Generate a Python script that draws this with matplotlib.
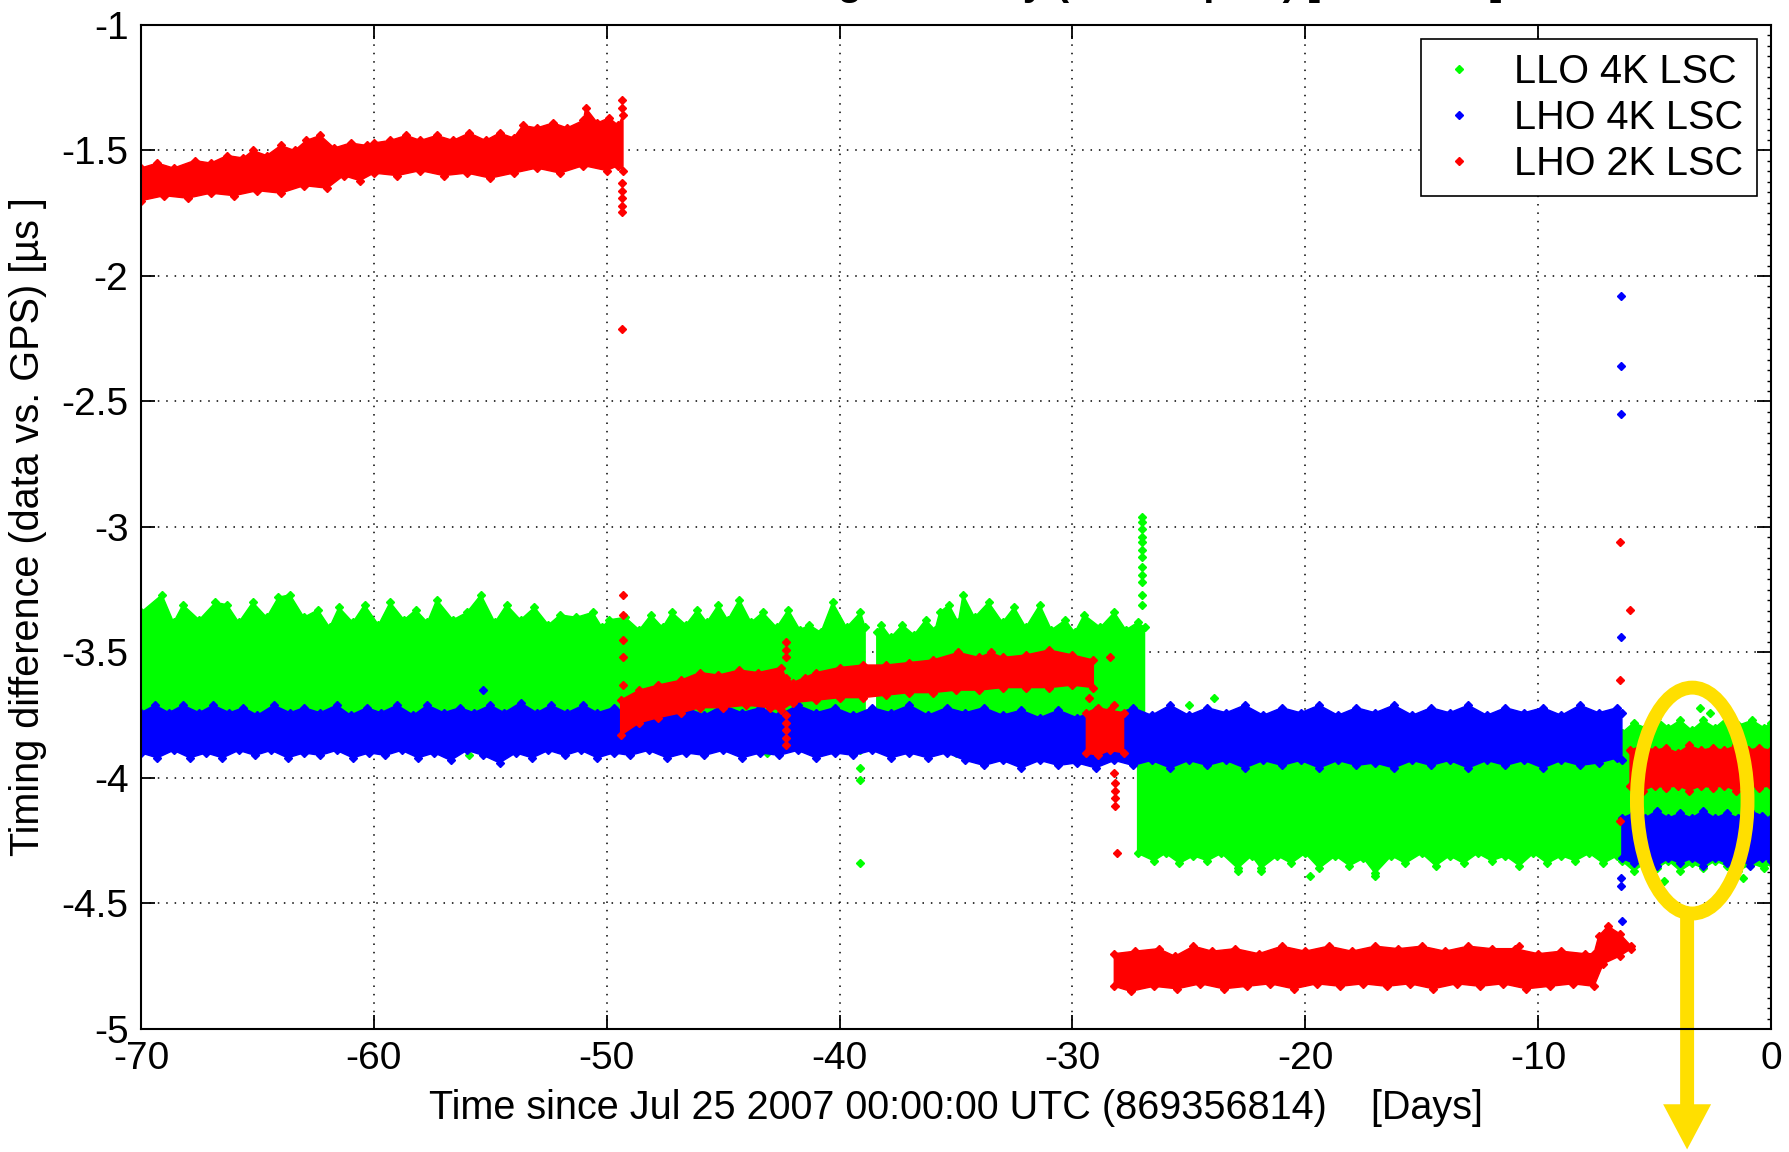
import numpy as np
import matplotlib
matplotlib.use("Agg")
import matplotlib.pyplot as plt
from matplotlib.lines import Line2D
from matplotlib.patches import Ellipse, FancyArrow
from matplotlib.ticker import MultipleLocator

plt.rcParams['font.family'] = ['Liberation Sans', 'DejaVu Sans']
plt.rcParams['axes.unicode_minus'] = False

# ---------------- data ----------------
series_names = ["LLO 4K LSC", "LHO 4K LSC", "LHO 2K LSC"]

# LLO 4K LSC (green) bands: upper edge / lower edge knots
llo_a_t_hi = [-70.0, -69.1, -68.6, -68.2, -67.5, -66.8, -66.3, -65.8, -65.2, -64.6, -64.1, -63.6,
              -63.0, -62.4, -61.9, -61.5, -60.9, -60.4, -59.8, -59.3, -58.7, -58.2, -57.7, -57.3,
              -56.6, -56.0, -55.4, -54.8, -54.3, -53.7, -53.1, -52.5, -52.0, -51.3, -50.6, -50.2,
              -49.9, -49.2, -48.6, -48.1, -47.6, -47.2, -46.6, -46.1, -45.7, -45.2, -44.8, -44.3,
              -43.8, -43.3, -42.7, -42.2, -41.7, -41.3, -40.8, -40.3, -39.7, -39.1, -38.9]
llo_a_hi = [-3.34, -3.27, -3.38, -3.31, -3.37, -3.30, -3.31, -3.38, -3.30, -3.36, -3.28, -3.27,
            -3.36, -3.33, -3.40, -3.32, -3.38, -3.31, -3.39, -3.30, -3.37, -3.33, -3.38, -3.29,
            -3.37, -3.34, -3.27, -3.38, -3.31, -3.37, -3.32, -3.39, -3.35, -3.36, -3.34, -3.40,
            -3.37, -3.36, -3.41, -3.35, -3.40, -3.34, -3.39, -3.33, -3.38, -3.31, -3.37, -3.29,
            -3.38, -3.34, -3.40, -3.33, -3.41, -3.39, -3.42, -3.30, -3.40, -3.34, -3.40]
llo_a_t_lo = [-70.0, -55.0, -38.9]
llo_a_lo = [-3.80, -3.80, -3.80]

llo_b_t_hi = [-38.4, -38.2, -37.8, -37.3, -36.8, -36.3, -35.9, -35.7, -35.3, -34.9, -34.7, -34.2,
              -33.6, -33.0, -32.5, -32.0, -31.4, -30.9, -30.3, -29.9, -29.5, -28.8, -28.2, -27.7,
              -27.2, -26.9]
llo_b_hi = [-3.42, -3.39, -3.44, -3.39, -3.43, -3.37, -3.41, -3.34, -3.31, -3.38, -3.27, -3.36,
            -3.30, -3.38, -3.32, -3.40, -3.31, -3.41, -3.37, -3.42, -3.35, -3.40, -3.34, -3.41,
            -3.38, -3.40]
llo_b_t_lo = [-38.4, -26.9]
llo_b_lo = [-3.78, -3.80]

llo_c_t_hi = [-27.2, -6.4]
llo_c_hi = [-3.82, -3.82]
llo_c_t_lo = [-27.2, -26.5, -26.0, -25.4, -24.8, -24.2, -23.6, -22.9, -22.3, -21.9, -21.2, -20.6,
              -20.0, -19.4, -18.7, -18.1, -17.5, -17.0, -16.3, -15.7, -15.0, -14.4, -13.8, -13.2,
              -12.6, -12.0, -11.4, -10.8, -10.2, -9.6, -9.0, -8.4, -7.8, -7.2, -6.6, -6.4]
llo_c_lo = [-4.30, -4.33, -4.30, -4.34, -4.31, -4.33, -4.30, -4.36, -4.31, -4.36, -4.31, -4.34,
            -4.30, -4.36, -4.31, -4.35, -4.32, -4.38, -4.31, -4.34, -4.30, -4.35, -4.31, -4.34,
            -4.30, -4.33, -4.31, -4.35, -4.30, -4.34, -4.31, -4.33, -4.30, -4.34, -4.31, -4.30]

llo_d_t_hi = [-6.4, -5.9, -5.4, -4.9, -4.4, -3.9, -3.4, -2.9, -2.4, -1.9, -1.4, -0.8, -0.3, 0.0]
llo_d_hi = [-3.82, -3.78, -3.80, -3.76, -3.80, -3.77, -3.81, -3.77, -3.80, -3.76, -3.79, -3.77,
            -3.80, -3.78]
llo_d_t_lo = [-6.4, -5.9, -5.4, -4.9, -4.4, -3.9, -3.4, -2.9, -2.4, -1.9, -1.4, -0.8, -0.3, 0.0]
llo_d_lo = [-4.33, -4.37, -4.34, -4.36, -4.33, -4.37, -4.34, -4.36, -4.33, -4.35, -4.37, -4.34,
            -4.36, -4.34]

llo_pts_t = [-27.0, -27.0, -27.0, -27.0, -27.0, -27.0, -27.0, -27.0, -27.0, -27.0, -27.0, -27.0,
             -39.1, -39.1, -39.1, -39.1, -55.9, -53.5, -43.1, -35.0, -25.8, -25.0, -24.0, -23.9,
             -22.9, -21.9, -19.8, -17.0, -3.05, -4.6, -1.2, -2.6]
llo_pts_v = [-2.96, -2.98, -3.01, -3.04, -3.06, -3.09, -3.12, -3.16, -3.19, -3.22, -3.27, -3.31,
             -3.89, -3.96, -4.01, -4.34, -3.91, -3.88, -3.90, -3.90, -3.73, -3.71, -3.75, -3.68,
             -4.37, -4.37, -4.39, -4.39, -3.72, -4.41, -4.40, -3.74]

# LHO 4K LSC (blue) bands
lho4_a_t_hi = [-70.0, -69.4, -68.8, -68.2, -67.5, -66.9, -66.2, -65.6, -65.0, -64.3, -63.6, -63.0,
               -62.3, -61.6, -61.0, -60.3, -59.7, -59.0, -58.3, -57.7, -57.0, -56.3, -55.7, -55.0,
               -54.4, -53.7, -53.0, -52.4, -51.7, -51.0, -50.4, -49.7, -49.0, -48.2, -47.4, -46.6,
               -45.8, -45.0, -44.2, -43.4, -42.6, -41.8, -41.0, -40.2, -39.4, -38.6, -37.8, -37.0,
               -36.2, -35.4, -34.6, -33.8, -33.0, -32.2, -31.4, -30.6, -29.8, -29.0, -28.2, -27.4,
               -26.6, -25.8, -25.0, -24.2, -23.4, -22.6, -21.8, -21.0, -20.2, -19.4, -18.6, -17.8,
               -17.0, -16.2, -15.4, -14.6, -13.8, -13.0, -12.2, -11.4, -10.6, -9.8, -9.0, -8.2,
               -7.4, -6.6, -6.4]
lho4_a_hi = [-3.74, -3.71, -3.74, -3.71, -3.74, -3.71, -3.74, -3.72, -3.75, -3.71, -3.74, -3.72,
             -3.74, -3.71, -3.75, -3.72, -3.74, -3.71, -3.75, -3.71, -3.74, -3.72, -3.74, -3.71,
             -3.74, -3.70, -3.74, -3.71, -3.74, -3.71, -3.74, -3.72, -3.74, -3.71, -3.74, -3.72,
             -3.75, -3.71, -3.74, -3.72, -3.75, -3.71, -3.74, -3.72, -3.75, -3.72, -3.74, -3.71,
             -3.75, -3.72, -3.74, -3.72, -3.75, -3.73, -3.76, -3.73, -3.76, -3.73, -3.75, -3.72,
             -3.75, -3.71, -3.75, -3.72, -3.74, -3.71, -3.75, -3.72, -3.74, -3.71, -3.75, -3.72,
             -3.74, -3.71, -3.75, -3.72, -3.74, -3.71, -3.75, -3.72, -3.74, -3.72, -3.75, -3.71,
             -3.74, -3.72, -3.74]
lho4_a_t_lo = [-70.0, -69.3, -68.6, -67.9, -67.2, -66.5, -65.8, -65.1, -64.4, -63.7, -63.0, -62.3,
               -61.6, -60.9, -60.2, -59.5, -58.8, -58.1, -57.4, -56.7, -56.0, -55.3, -54.6, -53.9,
               -53.2, -52.5, -51.8, -51.1, -50.4, -49.7, -49.0, -48.2, -47.4, -46.6, -45.8, -45.0,
               -44.2, -43.4, -42.6, -41.8, -41.0, -40.2, -39.4, -38.6, -37.8, -37.0, -36.2, -35.4,
               -34.6, -33.8, -33.0, -32.2, -31.4, -30.6, -29.8, -29.0, -28.2, -27.4, -26.6, -25.8,
               -25.0, -24.2, -23.4, -22.6, -21.8, -21.0, -20.2, -19.4, -18.6, -17.8, -17.0, -16.2,
               -15.4, -14.6, -13.8, -13.0, -12.2, -11.4, -10.6, -9.8, -9.0, -8.2, -7.4, -6.6, -6.4]
lho4_a_lo = [-3.90, -3.92, -3.89, -3.92, -3.90, -3.92, -3.89, -3.91, -3.89, -3.92, -3.90, -3.91,
             -3.89, -3.92, -3.90, -3.91, -3.89, -3.92, -3.90, -3.93, -3.89, -3.91, -3.94, -3.90,
             -3.92, -3.89, -3.91, -3.89, -3.92, -3.90, -3.91, -3.89, -3.92, -3.90, -3.91, -3.89,
             -3.92, -3.90, -3.91, -3.89, -3.92, -3.90, -3.91, -3.89, -3.92, -3.90, -3.92, -3.90,
             -3.93, -3.95, -3.93, -3.96, -3.93, -3.95, -3.94, -3.96, -3.93, -3.95, -3.93, -3.96,
             -3.93, -3.95, -3.93, -3.96, -3.93, -3.95, -3.93, -3.96, -3.93, -3.95, -3.94, -3.96,
             -3.93, -3.95, -3.93, -3.96, -3.93, -3.95, -3.93, -3.96, -3.93, -3.95, -3.94, -3.92,
             -3.93]

lho4_b_t_hi = [-6.4, -5.9, -5.4, -4.9, -4.4, -3.9, -3.4, -2.9, -2.4, -1.9, -1.4, -0.9, -0.4, 0.0]
lho4_b_hi = [-4.16, -4.14, -4.16, -4.13, -4.16, -4.14, -4.16, -4.13, -4.16, -4.14, -4.16, -4.13,
             -4.15, -4.16]
lho4_b_t_lo = [-6.4, -5.9, -5.4, -4.9, -4.4, -3.9, -3.4, -2.9, -2.4, -1.9, -1.4, -0.9, -0.4, 0.0]
lho4_b_lo = [-4.32, -4.34, -4.32, -4.35, -4.32, -4.34, -4.32, -4.35, -4.32, -4.34, -4.32, -4.35,
             -4.32, -4.33]

lho4_pts_t = [-6.45, -6.45, -6.45, -6.45, -6.45, -6.45, -6.40, -55.3]
lho4_pts_v = [-2.08, -2.36, -2.55, -3.44, -4.40, -4.43, -4.57, -3.65]

# LHO 2K LSC (red) bands
lho2_a_t_hi = [-70.0, -69.3, -68.6, -67.7, -67.0, -66.3, -65.6, -65.2, -64.6, -64.0, -63.4, -62.9,
               -62.3, -61.7, -61.0, -60.3, -60.0, -59.3, -58.6, -58.0, -57.3, -56.6, -55.9, -55.2,
               -54.6, -54.0, -53.6, -53.0, -52.3, -51.7, -51.0, -50.9, -50.4, -49.9, -49.5, -49.3]
lho2_a_hi = [-1.57, -1.55, -1.57, -1.54, -1.55, -1.52, -1.53, -1.50, -1.52, -1.48, -1.50, -1.46,
             -1.44, -1.49, -1.47, -1.48, -1.47, -1.46, -1.44, -1.46, -1.44, -1.46, -1.43, -1.46,
             -1.43, -1.45, -1.40, -1.41, -1.39, -1.41, -1.38, -1.33, -1.39, -1.37, -1.40, -1.36]
lho2_a_t_lo = [-70.0, -69.0, -68.0, -67.0, -66.0, -65.0, -64.0, -63.0, -62.0, -61.3, -60.6, -60.0,
               -59.0, -58.0, -57.0, -56.0, -55.0, -54.0, -53.0, -52.0, -51.0, -50.0, -49.5, -49.3]
lho2_a_lo = [-1.70, -1.68, -1.69, -1.67, -1.68, -1.66, -1.67, -1.64, -1.65, -1.60, -1.62, -1.59,
             -1.60, -1.58, -1.60, -1.59, -1.61, -1.59, -1.57, -1.59, -1.56, -1.58, -1.56, -1.58]

lho2_b_t_hi = [-49.4, -48.6, -47.8, -46.8, -46.0, -45.2, -44.3, -43.5, -42.5, -42.3, -42.0, -41.5,
               -41.0, -40.0, -39.0, -38.0, -37.0, -36.0, -34.9, -34.0, -33.5, -33.0, -32.0, -31.0,
               -30.0, -29.1]
lho2_b_hi = [-3.69, -3.65, -3.63, -3.61, -3.58, -3.59, -3.57, -3.58, -3.56, -3.60, -3.62, -3.60,
             -3.58, -3.56, -3.55, -3.55, -3.54, -3.53, -3.50, -3.52, -3.50, -3.52, -3.51, -3.49,
             -3.51, -3.53]
lho2_b_t_lo = [-49.4, -48.6, -47.8, -46.8, -46.0, -45.0, -44.0, -43.0, -42.5, -42.0, -41.0, -40.0,
               -39.0, -38.0, -37.0, -36.0, -35.0, -34.0, -33.0, -32.0, -31.0, -30.0, -29.1]
lho2_b_lo = [-3.83, -3.78, -3.76, -3.74, -3.72, -3.72, -3.71, -3.72, -3.73, -3.70, -3.69, -3.68,
             -3.68, -3.67, -3.66, -3.66, -3.65, -3.65, -3.64, -3.64, -3.64, -3.63, -3.64]

lho2_c_t_hi = [-29.4, -28.9, -28.4, -27.8]
lho2_c_hi = [-3.74, -3.72, -3.73, -3.74]
lho2_c_t_lo = [-29.4, -28.9, -28.4, -27.8]
lho2_c_lo = [-3.90, -3.91, -3.89, -3.90]

lho2_d_t_hi = [-28.2, -27.3, -26.3, -25.6, -24.8, -24.0, -23.0, -22.0, -21.0, -20.0, -19.0, -18.0,
               -17.0, -16.0, -15.0, -14.0, -13.0, -12.0, -11.0, -10.0, -9.0, -8.0, -7.6, -7.4,
               -7.0, -6.5, -6.0]
lho2_d_hi = [-4.70, -4.69, -4.68, -4.71, -4.67, -4.69, -4.68, -4.70, -4.67, -4.69, -4.67, -4.69,
             -4.67, -4.68, -4.67, -4.69, -4.67, -4.68, -4.68, -4.70, -4.69, -4.70, -4.70, -4.63,
             -4.59, -4.62, -4.67]
lho2_d_t_lo = [-28.2, -27.5, -26.5, -25.5, -24.5, -23.5, -22.5, -21.5, -20.5, -19.5, -18.5, -17.5,
               -16.5, -15.5, -14.5, -13.5, -12.5, -11.5, -10.5, -9.5, -8.5, -7.6, -7.2, -6.5, -6.0]
lho2_d_lo = [-4.83, -4.85, -4.83, -4.84, -4.82, -4.84, -4.83, -4.82, -4.84, -4.82, -4.83, -4.82,
             -4.83, -4.82, -4.84, -4.82, -4.83, -4.82, -4.84, -4.83, -4.82, -4.83, -4.74, -4.71,
             -4.68]

lho2_e_t_hi = [-6.05, -5.5, -5.0, -4.5, -4.0, -3.5, -3.0, -2.5, -2.0, -1.5, -1.0, -0.5, 0.0]
lho2_e_hi = [-3.89, -3.87, -3.89, -3.88, -3.90, -3.87, -3.89, -3.88, -3.89, -3.87, -3.89, -3.88,
             -3.89]
lho2_e_t_lo = [-6.05, -5.5, -5.0, -4.5, -4.0, -3.5, -3.0, -2.5, -2.0, -1.5, -1.0, -0.5, 0.0]
lho2_e_lo = [-4.03, -4.05, -4.03, -4.04, -4.03, -4.05, -4.03, -4.04, -4.03, -4.05, -4.03, -4.04,
             -4.03]

lho2_pts_t = [-49.35, -49.35, -49.35, -49.35, -49.35, -49.35, -49.35, -49.35,
              -49.3, -49.3, -49.3, -49.3, -49.3,
              -42.3, -42.3, -42.3, -42.3, -42.3, -42.3, -42.3, -42.3,
              -29.3, -28.4, -28.2, -28.2, -28.15, -28.15, -28.15, -28.15, -28.1,
              -10.8, -6.47, -6.05, -6.5, -6.5]
lho2_pts_v = [-1.30, -1.33, -1.63, -1.66, -1.69, -1.72, -1.745, -2.21,
              -3.27, -3.35, -3.45, -3.52, -3.63,
              -3.46, -3.49, -3.52, -3.75, -3.78, -3.81, -3.84, -3.87,
              -3.68, -3.52, -3.71, -3.98, -4.02, -4.05, -4.08, -4.11, -4.30,
              -4.67, -3.06, -3.33, -3.61, -4.17]

xticks = [-70, -60, -50, -40, -30, -20, -10, 0]
yticks = [-1, -1.5, -2, -2.5, -3, -3.5, -4, -4.5, -5]
ytick_labels = ["-1", "-1.5", "-2", "-2.5", "-3", "-3.5", "-4", "-4.5", "-5"]

# annotation (highlight ellipse + arrow) in data units
ell_center = (-3.38, -4.09)
ell_size = (4.75, 0.90)
arrow_x = -3.6

# ---------------- drawing ----------------
GREEN, BLUE, RED = (0, 1, 0), (0, 0, 1), (1, 0, 0)
YELLOW = '#FFDF00'

fig = plt.figure(figsize=(17.89, 11.52), dpi=100)
ax = fig.add_axes([0.0788, 0.1068, 0.9111, 0.8715])

def band(t_hi, hi, t_lo, lo, color, z):
    xs = list(t_hi) + list(t_lo)[::-1]
    ys = list(hi) + list(lo)[::-1]
    ax.fill(xs, ys, color=color, lw=1.0, ec=color, zorder=z)
    ax.plot(t_hi, hi, ls='none', marker='D', ms=4.2, color=color, mec=color, zorder=z)
    ax.plot(t_lo, lo, ls='none', marker='D', ms=4.2, color=color, mec=color, zorder=z)

def points(t, v, color, z):
    ax.plot(t, v, ls='none', marker='D', ms=4.2, color=color, mec=color, zorder=z)

band(llo_a_t_hi, llo_a_hi, llo_a_t_lo, llo_a_lo, GREEN, 2)
band(llo_b_t_hi, llo_b_hi, llo_b_t_lo, llo_b_lo, GREEN, 2)
band(llo_c_t_hi, llo_c_hi, llo_c_t_lo, llo_c_lo, GREEN, 2)
band(llo_d_t_hi, llo_d_hi, llo_d_t_lo, llo_d_lo, GREEN, 2)
points(llo_pts_t, llo_pts_v, GREEN, 2)

band(lho4_a_t_hi, lho4_a_hi, lho4_a_t_lo, lho4_a_lo, BLUE, 3)
band(lho4_b_t_hi, lho4_b_hi, lho4_b_t_lo, lho4_b_lo, BLUE, 3)
points(lho4_pts_t, lho4_pts_v, BLUE, 3)

band(lho2_a_t_hi, lho2_a_hi, lho2_a_t_lo, lho2_a_lo, RED, 4)
band(lho2_b_t_hi, lho2_b_hi, lho2_b_t_lo, lho2_b_lo, RED, 4)
band(lho2_c_t_hi, lho2_c_hi, lho2_c_t_lo, lho2_c_lo, RED, 4)
band(lho2_d_t_hi, lho2_d_hi, lho2_d_t_lo, lho2_d_lo, RED, 4)
band(lho2_e_t_hi, lho2_e_hi, lho2_e_t_lo, lho2_e_lo, RED, 4)
points(lho2_pts_t, lho2_pts_v, RED, 4)

ax.set_xlim(-70, 0)
ax.set_ylim(-5, -1)
ax.set_xticks(xticks)
ax.set_xticklabels([str(v) for v in xticks])
ax.set_yticks(yticks)
ax.set_yticklabels(ytick_labels)
ax.yaxis.set_minor_locator(MultipleLocator(0.5 / 12))
ax.tick_params(which='major', direction='in', length=10, width=1.3, top=True, right=True,
               labelsize=28, pad=9, color='black')
ax.tick_params(which='minor', direction='in', length=3, width=1.0, left=False, right=True,
               bottom=False, top=False)
ax.grid(True, which='major', color='black', linestyle=(0, (1, 4.5)), linewidth=1.1)
ax.set_axisbelow(True)
for s in ax.spines.values():
    s.set_linewidth(1.5)
    s.set_zorder(10)

ax.set_xlabel("Time since Jul 25 2007 00:00:00 UTC (869356814)    [Days]", fontsize=28.5,
              labelpad=8)
ax.set_ylabel("Timing difference (data vs. GPS) [\u00b5s ]", fontsize=28.5, labelpad=10)

handles = [Line2D([], [], ls='none', marker='D', ms=4.2, color=c, mec=c)
           for c in (GREEN, BLUE, RED)]
leg = ax.legend(handles, series_names, loc='upper right', fontsize=28.5, frameon=True,
                fancybox=False, edgecolor='black', framealpha=1, borderpad=0.35,
                handlelength=1.2, handletextpad=0.8, labelspacing=0.2,
                borderaxespad=0.35)
leg.get_frame().set_linewidth(1.2)
leg.set_zorder(12)

# highlight ellipse and arrow
ell = Ellipse(ell_center, ell_size[0], ell_size[1], fill=False, edgecolor=YELLOW, lw=10,
              zorder=8)
ax.add_patch(ell)
y_start = ell_center[1] - ell_size[1] / 2
arr = FancyArrow(arrow_x, y_start, 0, -5.48 - y_start, width=0.60, head_width=2.06,
                 head_length=0.18, length_includes_head=True, color=YELLOW, lw=0,
                 clip_on=False, zorder=8)
ax.add_patch(arr)

# title, almost entirely above the top edge of the figure (cut off in the original)
fig.text(0.41, 1.004, "Timing accuracy (all samples) [H1 H2 L1]", fontsize=28.5,
         fontweight='bold', ha='left', va='baseline')

fig.savefig("out.png", dpi=100)
